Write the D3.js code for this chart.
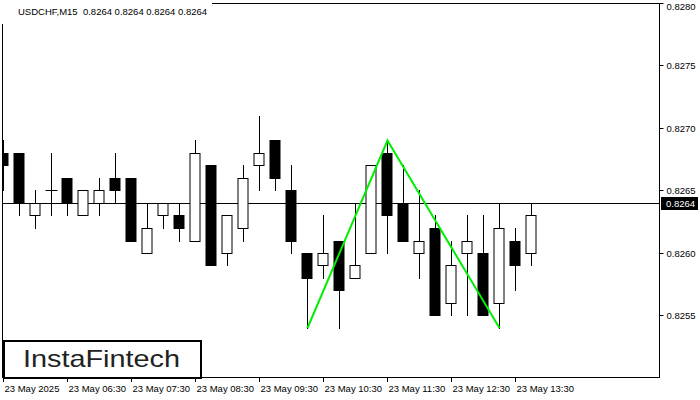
<!DOCTYPE html>
<html>
<head>
<meta charset="utf-8">
<script src="https://cdn.jsdelivr.net/npm/d3@7"></script>
<style>
  html, body { margin: 0; padding: 0; background: #fff; }
  svg { display: block; }
  text { font-family: "Liberation Sans", Arial, sans-serif; }
</style>
</head>
<body>
<svg id="chart" width="700" height="400"></svg>
<script>
// ---- Data ----
const symbolTitle = "USDCHF,M15  0.8264 0.8264 0.8264 0.8264";
const currentPrice = 0.8264;
const times = ["05:30","05:45","06:00","06:15","06:30","06:45","07:00","07:15","07:30","07:45",
               "08:00","08:15","08:30","08:45","09:00","09:15","09:30","09:45","10:00","10:15",
               "10:30","10:45","11:00","11:15","11:30","11:45","12:00","12:15","12:30","12:45",
               "13:00","13:15","13:30","13:45"];
const open  = [0.8268,0.8268,0.8263,0.8265,0.8266,0.8263,0.8264,0.8266,0.8266,0.8260,
               0.8263,0.8263,0.8261,0.8267,0.8260,0.8262,0.8267,0.8269,0.8265,0.8260,
               0.8259,0.8261,0.8258,0.8260,0.8268,0.8264,0.8260,0.8262,0.8256,0.8260,
               0.8260,0.8256,0.8261,0.8260];
const high  = [0.8269,0.8268,0.8265,0.8268,0.8266,0.8265,0.8266,0.8268,0.8266,0.8264,
               0.8264,0.8264,0.8269,0.8267,0.8263,0.8267,0.8271,0.8269,0.8267,0.8260,
               0.8263,0.8261,0.8264,0.8267,0.8269,0.8267,0.8265,0.8263,0.8261,0.8263,
               0.8263,0.8264,0.8262,0.8264];
const low   = [0.8265,0.8263,0.8262,0.8263,0.8263,0.8263,0.8263,0.8264,0.8261,0.8260,
               0.8262,0.8261,0.8261,0.8259,0.8259,0.8261,0.8265,0.8265,0.8260,0.8254,
               0.8258,0.8254,0.8258,0.8260,0.8260,0.8261,0.8258,0.8255,0.8255,0.8255,
               0.8255,0.8254,0.8257,0.8259];
const close = [0.8267,0.8264,0.8264,0.8265,0.8264,0.8265,0.8265,0.8265,0.8261,0.8262,
               0.8264,0.8262,0.8268,0.8259,0.8263,0.8266,0.8268,0.8266,0.8261,0.8258,
               0.8260,0.8257,0.8259,0.8267,0.8263,0.8261,0.8261,0.8255,0.8259,0.8261,
               0.8255,0.8262,0.8259,0.8263];
const yTicks = [0.8255, 0.8260, 0.8265, 0.8270, 0.8275, 0.8280];
const xTickIdx = [0, 4, 8, 12, 16, 20, 24, 28, 32];
const xTickLabels = ["23 May 2025","23 May 06:30","23 May 07:30","23 May 08:30","23 May 09:30",
                     "23 May 10:30","23 May 11:30","23 May 12:30","23 May 13:30"];
const patternIdx = [19, 24, 31];
const patternPrice = [0.8254, 0.8269, 0.8254];

// ---- Layout ----
const plot = { left: 2, top: 3, right: 659, bottom: 377 };
const svg = d3.select("#chart");

const x = d3.scaleLinear().domain([0, times.length - 1]).range([3, 531]);
const y = d3.scaleLinear().domain([0.8250, 0.8280]).range([378, 3]);

svg.append("defs").append("clipPath").attr("id", "plotclip")
  .append("rect").attr("x", plot.left + 0.5).attr("y", plot.top + 0.5)
  .attr("width", plot.right - plot.left - 0.5).attr("height", plot.bottom - plot.top - 0.5);

// frame
svg.append("rect")
  .attr("x", plot.left + 0.5).attr("y", plot.top + 0.5)
  .attr("width", plot.right - plot.left).attr("height", plot.bottom - plot.top)
  .attr("fill", "none").attr("stroke", "#000").attr("stroke-width", 1);

const g = svg.append("g").attr("clip-path", "url(#plotclip)");

const px = v => Math.round(v);

// current price line
g.append("line")
  .attr("x1", plot.left).attr("x2", plot.right)
  .attr("y1", px(y(currentPrice)) + 0.5).attr("y2", px(y(currentPrice)) + 0.5)
  .attr("stroke", "#000").attr("stroke-width", 1);

// candles
const idx = d3.range(times.length);
const bw = 11;
idx.forEach(i => {
  const cx = px(x(i)) + 0.5;
  const bull = close[i] > open[i];
  const top = px(y(Math.max(open[i], close[i])));
  const bot = px(y(Math.min(open[i], close[i])));
  g.append("line")
    .attr("x1", cx).attr("x2", cx)
    .attr("y1", px(y(high[i]))).attr("y2", px(y(low[i])) + 1)
    .attr("stroke", "#000").attr("stroke-width", 1);
  if (top === bot) {
    g.append("line")
      .attr("x1", cx - 6).attr("x2", cx + 6)
      .attr("y1", top + 0.5).attr("y2", top + 0.5)
      .attr("stroke", "#000").attr("stroke-width", 1);
  } else {
    g.append("rect")
      .attr("x", cx - bw / 2).attr("y", top + 0.5)
      .attr("width", bw - 1).attr("height", bot - top)
      .attr("fill", bull ? "#fff" : "#000")
      .attr("stroke", "#000").attr("stroke-width", 1);
  }
});

// pattern line
const line = d3.line().x(d => x(d[0]) + 0.5).y(d => y(d[1]));
g.append("path")
  .datum(patternIdx.map((d, k) => [d, patternPrice[k]]))
  .attr("d", line)
  .attr("fill", "none").attr("stroke", "#00ee00").attr("stroke-width", 2);

// title background and title
svg.append("rect").attr("x", 0).attr("y", 0).attr("width", 212).attr("height", 24).attr("fill", "#fff");
svg.append("line").attr("x1", plot.left + 0.5).attr("x2", plot.left + 0.5)
  .attr("y1", 24).attr("y2", plot.bottom).attr("stroke", "#000");
svg.append("text")
  .attr("x", 18).attr("y", 15)
  .attr("font-size", "9.5px").attr("fill", "#000")
  .attr("xml:space", "preserve")
  .style("white-space", "pre")
  .text(symbolTitle);

// right axis
const yAxisG = svg.append("g").attr("transform", `translate(${plot.right + 0.5},0)`);
yTicks.forEach(t => {
  const ty = px(y(t)) + 0.5;
  yAxisG.append("line").attr("x1", 0).attr("x2", 4).attr("y1", ty).attr("y2", ty).attr("stroke", "#000");
  yAxisG.append("text").attr("x", 7).attr("y", Math.max(ty + 3.5, 10))
    .attr("font-size", "9.5px").attr("fill", "#000").text(d3.format(".4f")(t));
});
// current price label
const cpY = px(y(currentPrice));
svg.append("rect").attr("x", 661).attr("y", cpY - 6).attr("width", 37).attr("height", 13).attr("fill", "#000");
svg.append("text").attr("x", 666).attr("y", cpY + 4)
  .attr("font-size", "9.5px").attr("fill", "#fff").text(d3.format(".4f")(currentPrice));

// bottom axis
xTickIdx.forEach((ti, k) => {
  const tx = px(x(ti)) + 0.5;
  svg.append("line").attr("x1", tx).attr("x2", tx).attr("y1", plot.bottom).attr("y2", plot.bottom + 5).attr("stroke", "#000");
  svg.append("text").attr("x", tx + 1).attr("y", 392)
    .attr("font-size", "9.5px").attr("fill", "#000").text(xTickLabels[k]);
});

// logo
svg.append("rect").attr("x", 4).attr("y", 341).attr("width", 197).attr("height", 37)
  .attr("fill", "#fff").attr("stroke", "#000").attr("stroke-width", 2);
svg.append("text").attr("x", 23).attr("y", 367)
  .attr("font-family", "Lato, 'Open Sans', sans-serif")
  .attr("font-size", "24px").attr("fill", "#222")
  .attr("textLength", 157).attr("lengthAdjust", "spacingAndGlyphs")
  .text("InstaFintech");
</script>
</body>
</html>
